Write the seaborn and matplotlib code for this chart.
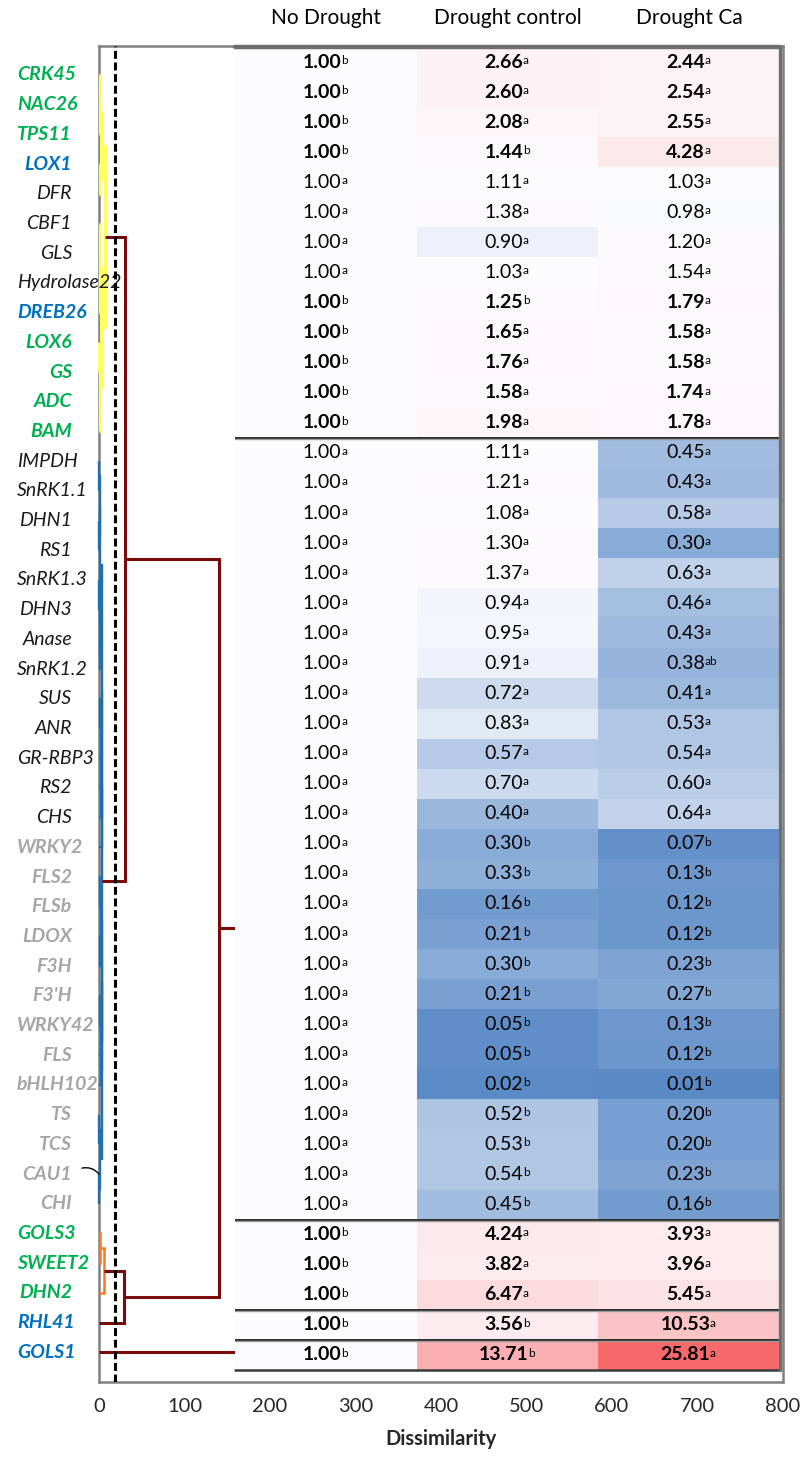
import matplotlib
matplotlib.use("Agg")
import numpy as np
import pandas as pd
import matplotlib.pyplot as plt
import seaborn as sns
from matplotlib.colors import LinearSegmentedColormap, TwoSlopeNorm

# genes in dendrogram order, with the colour group of each label
genes = ["CRK45", "NAC26", "TPS11", "LOX1", "DFR", "CBF1", "GLS", "Hydrolase22",
         "DREB26", "LOX6", "GS", "ADC", "BAM",
         "IMPDH", "SnRK1.1", "DHN1", "RS1", "SnRK1.3", "DHN3", "Anase", "SnRK1.2",
         "SUS", "ANR", "GR-RBP3", "RS2", "CHS",
         "WRKY2", "FLS2", "FLSb", "LDOX", "F3H", "F3'H", "WRKY42", "FLS", "bHLH102",
         "TS", "TCS", "CAU1", "CHI",
         "GOLS3", "SWEET2", "DHN2", "RHL41", "GOLS1"]
label_kind = ["g", "g", "g", "b", "k", "k", "k", "k", "b", "g", "g", "g", "g"] + \
             ["k"] * 13 + ["s"] * 13 + ["g", "g", "g", "b", "b"]

# table groups (rows per block, top to bottom)
block_sizes = [13, 26, 3, 1, 1]

conditions = ["No Drought", "Drought control", "Drought Ca"]
no_drought = [1.00] * len(genes)
no_drought_sig = ["b", "b", "b", "b", "a", "a", "a", "a", "b", "b", "b", "b", "b"] + \
                 ["a"] * 26 + ["b", "b", "b", "b", "b"]
drought_control = [2.66, 2.60, 2.08, 1.44, 1.11, 1.38, 0.90, 1.03, 1.25, 1.65, 1.76, 1.58, 1.98,
                   1.11, 1.21, 1.08, 1.30, 1.37, 0.94, 0.95, 0.91, 0.72, 0.83, 0.57, 0.70, 0.40,
                   0.30, 0.33, 0.16, 0.21, 0.30, 0.21, 0.05, 0.05, 0.02, 0.52, 0.53, 0.54, 0.45,
                   4.24, 3.82, 6.47, 3.56, 13.71]
drought_control_sig = ["a", "a", "a", "b", "a", "a", "a", "a", "b", "a", "a", "a", "a",
                       "a", "a", "a", "a", "a", "a", "a", "a", "a", "a", "a", "a", "a",
                       "b", "b", "b", "b", "b", "b", "b", "b", "b", "b", "b", "b", "b",
                       "a", "a", "a", "b", "b"]
drought_ca = [2.44, 2.54, 2.55, 4.28, 1.03, 0.98, 1.20, 1.54, 1.79, 1.58, 1.58, 1.74, 1.78,
              0.45, 0.43, 0.58, 0.30, 0.63, 0.46, 0.43, 0.38, 0.41, 0.53, 0.54, 0.60, 0.64,
              0.07, 0.13, 0.12, 0.12, 0.23, 0.27, 0.13, 0.12, 0.01, 0.20, 0.20, 0.23, 0.16,
              3.93, 3.96, 5.45, 10.53, 25.81]
drought_ca_sig = ["a"] * 20 + ["ab"] + ["a"] * 5 + ["b"] * 13 + ["a"] * 5

# dendrogram merges: (node a, node b, dissimilarity, colour group); new nodes numbered from 44
merges = [
    (0, 1, 0.6, "y"), (44, 2, 1.0, "y"), (3, 4, 1.6, "y"), (45, 46, 2.2, "y"),
    (5, 6, 0.8, "y"), (7, 8, 1.0, "y"), (48, 49, 1.6, "y"), (9, 10, 0.5, "y"),
    (11, 12, 0.7, "y"), (51, 52, 1.2, "y"), (50, 53, 2.6, "y"), (47, 54, 7.0, "y"),
    (13, 14, 0.4, "b"), (15, 16, 0.5, "b"), (56, 57, 0.8, "b"), (17, 18, 0.4, "b"),
    (19, 20, 0.6, "b"), (59, 60, 0.9, "b"), (58, 61, 1.1, "b"),
    (21, 22, 1.5, "b"), (63, 23, 2.0, "b"), (64, 24, 2.4, "b"), (65, 25, 2.8, "b"),
    (66, 26, 3.1, "b"), (62, 67, 3.4, "b"),
    (27, 28, 1.2, "b"), (29, 30, 1.5, "b"), (69, 70, 2.2, "b"), (31, 32, 1.3, "b"),
    (33, 34, 1.8, "b"), (72, 73, 2.5, "b"), (71, 74, 3.0, "b"),
    (35, 36, 0.4, "b"), (37, 38, 0.5, "b"), (76, 77, 0.8, "b"), (75, 78, 3.3, "b"),
    (68, 79, 3.8, "b"),
    (55, 80, 30.4, "r"),
    (39, 40, 1.0, "o"), (82, 41, 6.0, "o"), (83, 42, 29.2, "r"),
    (81, 84, 140.0, "r"), (85, 43, 250.0, "r"),
]
cut_level = 19

link_colors = {"y": "#FFFF5E", "b": "#1F6FB2", "o": "#FF7722", "r": "#7B0A0A"}
link_widths = {"y": 2.2, "b": 1.7, "o": 1.8, "r": 2.2}
label_colors = {"g": "#00B050", "b": "#0070C0", "k": "#1A1A1A", "s": "#A6A6A6"}

sns.set_style("white")
plt.rcParams["font.family"] = ["Lato", "DejaVu Sans"]

fig = plt.figure(figsize=(8.04, 14.58), dpi=100)
ax = fig.add_axes([99 / 804, 1 - 1382 / 1458, 684 / 804, 1336 / 1458], zorder=1)

# dendrogram
n = len(genes)
pos = {i: float(i) for i in range(n)}
hgt = {i: 0.0 for i in range(n)}
for k, (a, b, h, c) in enumerate(merges):
    ax.plot([hgt[a], h, h, hgt[b]], [pos[a], pos[a], pos[b], pos[b]],
            color=link_colors[c], lw=link_widths[c], solid_joinstyle="miter",
            solid_capstyle="butt", zorder=3, clip_on=False)
    pos[n + k] = (pos[a] + pos[b]) / 2
    hgt[n + k] = h

ax.axvline(cut_level, color="black", lw=2.2, ls=(0, (2.6, 1.2)), zorder=4)

ax.set_xlim(0, 800)
ax.set_ylim(44.0, -0.976)
ax.set_xticks(range(0, 801, 100))
ax.set_yticks([])
ax.tick_params(axis="x", direction="inout", length=9, width=1.3, color="#808080",
               labelsize=14.5, pad=7)
for s in ax.spines.values():
    s.set_color("#808080")
    s.set_linewidth(1.8)
ax.set_xlabel("Dissimilarity", fontsize=14.5, fontweight="bold", labelpad=10)

# CAU1 pointer line
ax.annotate("", xy=(0, pos[37]), xytext=(-20, pos[37] - 0.2), annotation_clip=False,
            arrowprops=dict(arrowstyle="-", color="black", lw=1.0,
                            connectionstyle="arc3,rad=-0.3", shrinkA=0, shrinkB=0))

# gene labels
ytrans = ax.get_yaxis_transform()
x_right = (72 - 99) / 684
x_left = (17 - 99) / 684
labels = []
for i, (g, kind) in enumerate(zip(genes, label_kind)):
    t = ax.text(x_right, i, g, transform=ytrans, ha="right", va="center",
                fontsize=14, style="italic", color=label_colors[kind],
                fontweight="normal" if kind == "k" else "bold")
    labels.append(t)

# heatmap table
ax_t = fig.add_axes([235 / 804, 1 - 1370 / 1458, 545 / 804, 1323 / 1458], zorder=5)
table = pd.DataFrame({conditions[0]: no_drought, conditions[1]: drought_control,
                      conditions[2]: drought_ca}, index=genes)
sig = pd.DataFrame({conditions[0]: no_drought_sig, conditions[1]: drought_control_sig,
                    conditions[2]: drought_ca_sig}, index=genes)
cmap = LinearSegmentedColormap.from_list("xl", ["#5A8AC6", "#FCFCFF", "#F8696B"])
norm = TwoSlopeNorm(vmin=table.values.min(), vcenter=1.0, vmax=table.values.max())
sns.heatmap(table, ax=ax_t, cmap=cmap, norm=norm, cbar=False,
            xticklabels=False, yticklabels=False, linewidths=0)
ax_t.set_xlabel("")
ax_t.set_ylabel("")

for i, g in enumerate(genes):
    bold = label_kind[i] in ("g", "b")
    for j, cond in enumerate(conditions):
        t = ax_t.text(j + 0.5 - 0.02, i + 0.5, f"{table.loc[g, cond]:.2f}",
                      ha="center", va="center", fontsize=14, color="black",
                      fontweight="bold" if bold else "normal")
        ax_t.annotate(sig.loc[g, cond], xy=(0.99, 0.28), xycoords=t, ha="left", va="bottom",
                      fontsize=8.5, color="black")

for j, cond in enumerate(conditions):
    ax_t.text(j + 0.5, 1.022, cond, transform=ax_t.get_xaxis_transform(),
              ha="center", va="center", fontsize=15, color="black")

bounds = np.cumsum(block_sizes)
for b in bounds[:-1]:
    ax_t.axhline(b, color="#2B2B2B", lw=1.4, zorder=6)
    ax_t.axhline(b + 0.04, color="#9A9A9A", lw=1.0, zorder=6)
ax_t.axhline(0, color="#6E6E6E", lw=3.2, zorder=6, clip_on=False)
ax_t.axhline(bounds[-1], color="#3A3A3A", lw=1.8, zorder=6, clip_on=False)
ax_t.axvline(3, color="#6E6E6E", lw=2.4, zorder=6, clip_on=False)
for s in ax_t.spines.values():
    s.set_visible(False)

# long gene names start at a common left edge instead of the right edge
fig.canvas.draw()
renderer = fig.canvas.get_renderer()
for t in labels:
    bb = t.get_window_extent(renderer)
    if bb.x0 < 17:
        t.set_x(x_left)
        t.set_ha("left")

fig.savefig("out.png", dpi=100)
